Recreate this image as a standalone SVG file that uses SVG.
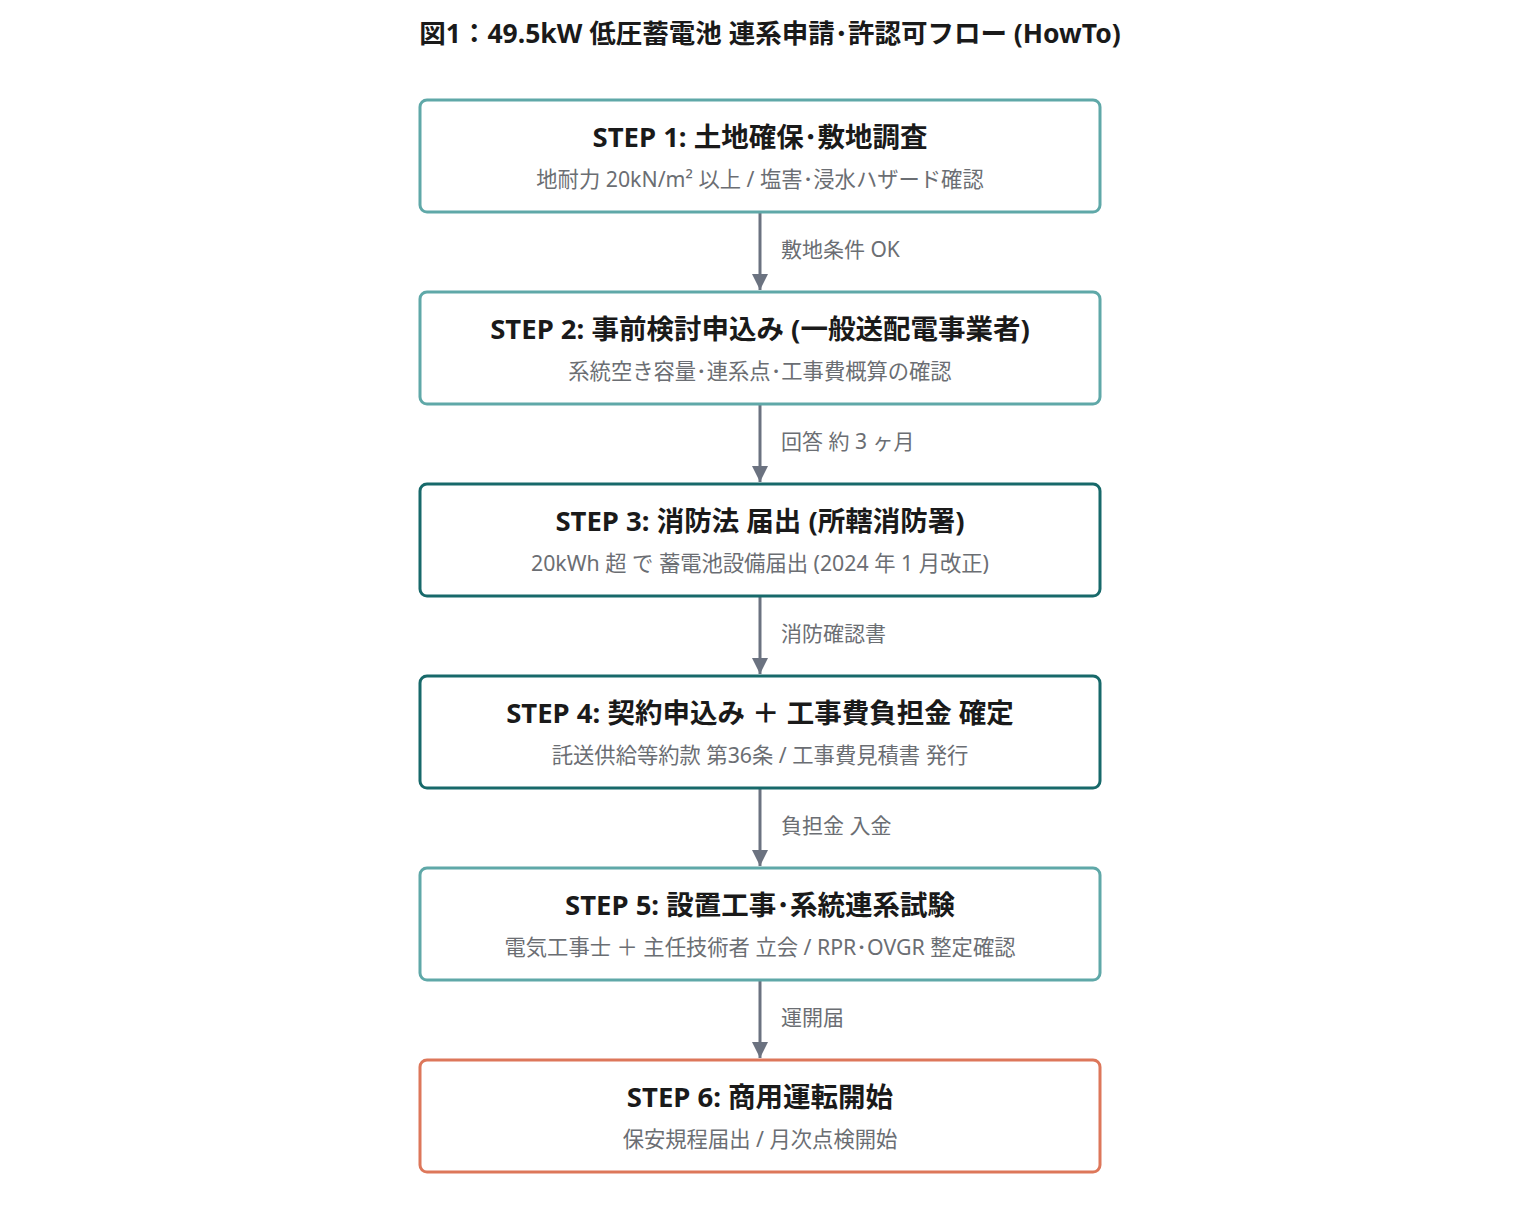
<svg xmlns="http://www.w3.org/2000/svg" width="1520" height="1232" viewBox="0 0 1520 1232">
<style>
text{font-family:"Noto Sans","Noto Sans CJK JP",sans-serif}
.box{fill:#fff;stroke-width:3}
.l{stroke:#5fa8a8}.d{stroke:#17696a}.o{stroke:#dd775a}
.t{font-size:27.5px;font-weight:bold;fill:#1a1a1a;text-anchor:middle}
.s{font-size:21.3px;fill:#6b6e73;text-anchor:middle}
.e{font-size:21px;fill:#6b6e73}
.c{stroke:#6b7280;stroke-width:3;fill:none}
</style>
<defs><marker id="ah" markerWidth="18" markerHeight="18" refX="16" refY="8" orient="auto" markerUnits="userSpaceOnUse"><path d="M0,0 L16,8 L0,16Z" fill="#6b7280"/></marker></defs>
<text x="770" y="43" font-size="26.5" font-weight="bold" fill="#1a1a1a" text-anchor="middle">図1：49.5kW 低圧蓄電池 連系申請･許認可フロー (HowTo)</text>
<g id="connectors">
<path class="c" d="M760,212 V290" marker-end="url(#ah)"/><text class="e" x="781" y="257">敷地条件 OK</text>
<path class="c" d="M760,404 V482" marker-end="url(#ah)"/><text class="e" x="781" y="449">回答 約 3 ヶ月</text>
<path class="c" d="M760,596 V674" marker-end="url(#ah)"/><text class="e" x="781" y="641">消防確認書</text>
<path class="c" d="M760,788 V866" marker-end="url(#ah)"/><text class="e" x="781" y="833">負担金 入金</text>
<path class="c" d="M760,980 V1058" marker-end="url(#ah)"/><text class="e" x="781" y="1025">運開届</text>
</g>
<g id="step1"><rect class="box l" x="420" y="100" width="680" height="112" rx="7"/><text class="t" x="760" y="147">STEP 1: 土地確保･敷地調査</text><text class="s" x="760" y="187">地耐力 20kN/m² 以上 / 塩害･浸水ハザード確認</text></g>
<g id="step2"><rect class="box l" x="420" y="292" width="680" height="112" rx="7"/><text class="t" x="760" y="339">STEP 2: 事前検討申込み (一般送配電事業者)</text><text class="s" x="760" y="379">系統空き容量･連系点･工事費概算の確認</text></g>
<g id="step3"><rect class="box d" x="420" y="484" width="680" height="112" rx="7"/><text class="t" x="760" y="531">STEP 3: 消防法 届出 (所轄消防署)</text><text class="s" x="760" y="571">20kWh 超 で 蓄電池設備届出 (2024 年 1 月改正)</text></g>
<g id="step4"><rect class="box d" x="420" y="676" width="680" height="112" rx="7"/><text class="t" x="760" y="723">STEP 4: 契約申込み ＋ 工事費負担金 確定</text><text class="s" x="760" y="763">託送供給等約款 第36条 / 工事費見積書 発行</text></g>
<g id="step5"><rect class="box l" x="420" y="868" width="680" height="112" rx="7"/><text class="t" x="760" y="915">STEP 5: 設置工事･系統連系試験</text><text class="s" x="760" y="955">電気工事士 ＋ 主任技術者 立会 / RPR･OVGR 整定確認</text></g>
<g id="step6"><rect class="box o" x="420" y="1060" width="680" height="112" rx="7"/><text class="t" x="760" y="1107">STEP 6: 商用運転開始</text><text class="s" x="760" y="1147">保安規程届出 / 月次点検開始</text></g>
</svg>
